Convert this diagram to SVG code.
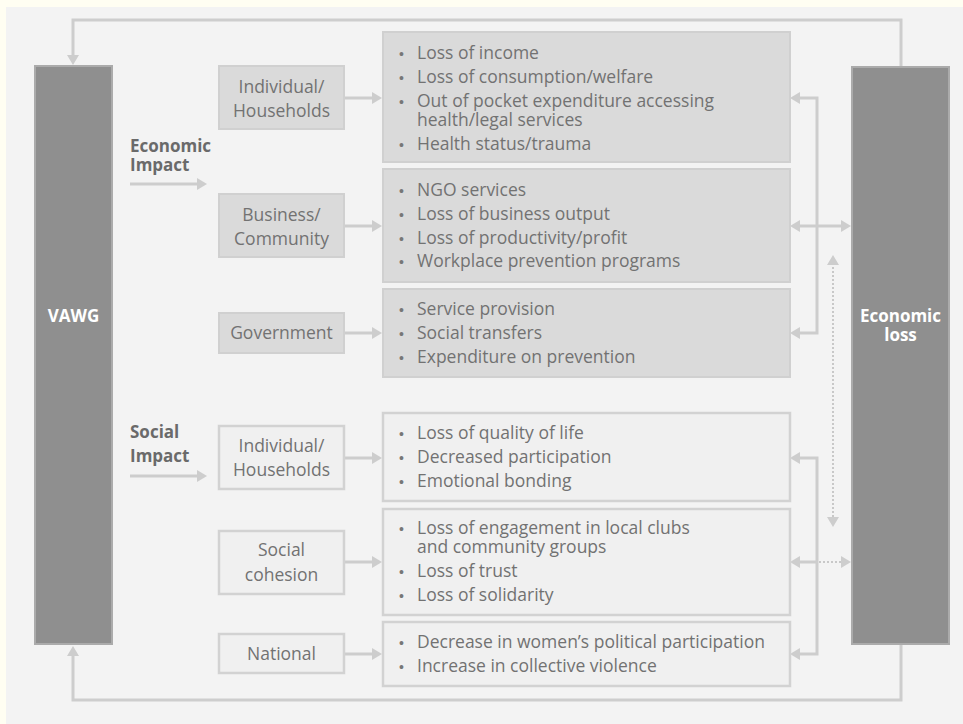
<svg xmlns="http://www.w3.org/2000/svg" width="963" height="724" viewBox="0 0 963 724">
<style>
.t{font-family:"Open Sans","Liberation Sans",sans-serif;font-size:17.5px;fill:#727272}
.c{text-anchor:middle}
.b{font-family:"Open Sans","Liberation Sans",sans-serif;font-size:17px;font-weight:bold;fill:#6a6a6a}
.w{font-family:"Open Sans","Liberation Sans",sans-serif;font-size:17px;font-weight:bold;fill:#ffffff;text-anchor:middle}
.bul{font-family:"Liberation Sans",sans-serif;font-size:14px;fill:#777777}
.big{fill:#8f8f8f;stroke:#ababab;stroke-width:2}
.ec{fill:#dadada;stroke:#d0d0d0;stroke-width:2}
.so{fill:#f0f0f0;stroke:#d2d2d2;stroke-width:2.5}
.ln{fill:none;stroke:#cdcdcd;stroke-width:3}
.dt{fill:none;stroke:#c8c8c8;stroke-width:2;stroke-dasharray:2 2}
</style>
<defs>
<marker id="ah" viewBox="0 0 10 12" refX="2" refY="6" markerWidth="10" markerHeight="12" markerUnits="userSpaceOnUse" orient="auto-start-reverse">
<path d="M0,0 L10,6 L0,12 z" fill="#cdcdcd"/>
</marker>
</defs>
<rect x="0" y="0" width="963" height="724" fill="#fffef2"/>
<rect x="6" y="7" width="957" height="717" fill="#f3f3f3"/>

<g id="connectors">
<path class="ln" d="M901,66 V20 H73 V57" marker-end="url(#ah)"/>
<path class="ln" d="M901,644 V700 H73 V654" marker-end="url(#ah)"/>
<path class="ln" d="M344,98 H374" marker-end="url(#ah)"/>
<path class="ln" d="M344,226 H374" marker-end="url(#ah)"/>
<path class="ln" d="M344,333 H374" marker-end="url(#ah)"/>
<path class="ln" d="M344,458 H374" marker-end="url(#ah)"/>
<path class="ln" d="M344,562 H374" marker-end="url(#ah)"/>
<path class="ln" d="M344,654 H374" marker-end="url(#ah)"/>
<path class="ln" d="M130,184 H199" marker-end="url(#ah)"/>
<path class="ln" d="M130,476 H199" marker-end="url(#ah)"/>
<path class="ln" d="M798,98 H817 V333 H798" marker-start="url(#ah)" marker-end="url(#ah)"/>
<path class="ln" d="M798,226 H843" marker-start="url(#ah)" marker-end="url(#ah)"/>
<path class="ln" d="M798,458 H817 V654 H798" marker-start="url(#ah)" marker-end="url(#ah)"/>
<path class="ln" d="M798,562 H817" marker-start="url(#ah)"/>
<path class="dt" d="M819,562 H843" marker-end="url(#ah)"/>
<path class="dt" d="M833,263 V519" marker-start="url(#ah)" marker-end="url(#ah)"/>
</g>

<g id="vawg">
<rect class="big" x="35" y="66" width="77" height="578"/>
<text class="w" x="73.5" y="322">VAWG</text>
</g>
<g id="economic-loss">
<rect class="big" x="852" y="67" width="97" height="577"/>
<text class="w" x="900.5" y="322">Economic</text>
<text class="w" x="900.5" y="341">loss</text>
</g>

<g id="economic-impact">
<text class="b" x="130" y="152">Economic</text>
<text class="b" x="130" y="171">Impact</text>
</g>
<g id="social-impact">
<text class="b" x="130" y="438">Social</text>
<text class="b" x="130" y="462">Impact</text>
</g>

<g id="econ-individual">
<rect class="ec" x="219" y="66" width="125" height="63"/>
<text class="t c" x="281.5" y="93">Individual/</text>
<text class="t c" x="281.5" y="117">Households</text>
</g>
<g id="business">
<rect class="ec" x="219" y="194" width="125" height="63"/>
<text class="t c" x="281.5" y="221">Business/</text>
<text class="t c" x="281.5" y="245">Community</text>
</g>
<g id="government">
<rect class="ec" x="219" y="313" width="125" height="40"/>
<text class="t c" x="281.5" y="339">Government</text>
</g>
<g id="social-individual">
<rect class="so" x="219" y="426" width="125" height="63"/>
<text class="t c" x="281.5" y="452">Individual/</text>
<text class="t c" x="281.5" y="476">Households</text>
</g>
<g id="social-cohesion">
<rect class="so" x="219" y="531" width="125" height="63"/>
<text class="t c" x="281.5" y="556">Social</text>
<text class="t c" x="281.5" y="581">cohesion</text>
</g>
<g id="national">
<rect class="so" x="219" y="634" width="125" height="39"/>
<text class="t c" x="281.5" y="660">National</text>
</g>

<g id="econ-individual-list">
<rect class="ec" x="383" y="32" width="407" height="130"/>
<text class="bul" x="399" y="59">•</text><text class="t" x="417" y="59">Loss of income</text>
<text class="bul" x="399" y="83">•</text><text class="t" x="417" y="83">Loss of consumption/welfare</text>
<text class="bul" x="399" y="107">•</text><text class="t" x="417" y="107">Out of pocket expenditure accessing</text>
<text class="t" x="417" y="126">health/legal services</text>
<text class="bul" x="399" y="150">•</text><text class="t" x="417" y="150">Health status/trauma</text>
</g>
<g id="business-list">
<rect class="ec" x="383" y="169" width="407" height="113"/>
<text class="bul" x="399" y="196">•</text><text class="t" x="417" y="196">NGO services</text>
<text class="bul" x="399" y="220">•</text><text class="t" x="417" y="220">Loss of business output</text>
<text class="bul" x="399" y="244">•</text><text class="t" x="417" y="244">Loss of productivity/profit</text>
<text class="bul" x="399" y="267">•</text><text class="t" x="417" y="267">Workplace prevention programs</text>
</g>
<g id="government-list">
<rect class="ec" x="383" y="289" width="407" height="88"/>
<text class="bul" x="399" y="315">•</text><text class="t" x="417" y="315">Service provision</text>
<text class="bul" x="399" y="339">•</text><text class="t" x="417" y="339">Social transfers</text>
<text class="bul" x="399" y="363">•</text><text class="t" x="417" y="363">Expenditure on prevention</text>
</g>
<g id="social-individual-list">
<rect class="so" x="383" y="413" width="407" height="88"/>
<text class="bul" x="399" y="439">•</text><text class="t" x="417" y="439">Loss of quality of life</text>
<text class="bul" x="399" y="463">•</text><text class="t" x="417" y="463">Decreased participation</text>
<text class="bul" x="399" y="487">•</text><text class="t" x="417" y="487">Emotional bonding</text>
</g>
<g id="social-cohesion-list">
<rect class="so" x="383" y="509" width="407" height="106"/>
<text class="bul" x="399" y="534">•</text><text class="t" x="417" y="534">Loss of engagement in local clubs</text>
<text class="t" x="417" y="553">and community groups</text>
<text class="bul" x="399" y="577">•</text><text class="t" x="417" y="577">Loss of trust</text>
<text class="bul" x="399" y="601">•</text><text class="t" x="417" y="601">Loss of solidarity</text>
</g>
<g id="national-list">
<rect class="so" x="383" y="622" width="407" height="64"/>
<text class="bul" x="399" y="648">•</text><text class="t" x="417" y="648">Decrease in women’s political participation</text>
<text class="bul" x="399" y="672">•</text><text class="t" x="417" y="672">Increase in collective violence</text>
</g>
</svg>
